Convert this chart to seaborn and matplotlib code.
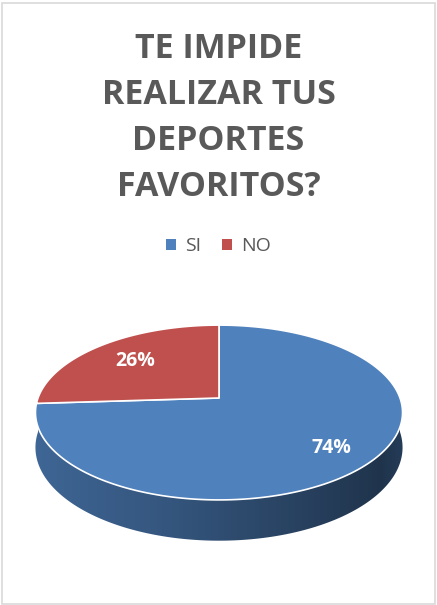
import numpy as np
import matplotlib
matplotlib.use("Agg")
import matplotlib.pyplot as plt
from matplotlib.patches import Polygon, Rectangle, Patch
from matplotlib.colors import to_rgb
import seaborn as sns

# ---- data ----
categories = ["SI", "NO"]
values = [74, 26]
slice_colors = ["#4f81bd", "#c0504d"]
title_text = "TE IMPIDE\nREALIZAR TUS\nDEPORTES\nFAVORITOS?"

sns.set_theme(style="white")
plt.rcParams['font.family'] = ['Open Sans', 'DejaVu Sans']

fig = plt.figure(figsize=(4.37, 6.05), dpi=100)
ax = fig.add_axes([0, 0, 1, 1])
ax.set_xlim(0, 437)
ax.set_ylim(605, 0)
ax.axis('off')

# 3D pie geometry (pixel space, simple perspective)
cx, cy = 219, 398
A, B, E, T = 181, 85, 0.166, 34


def proj(t, rho=1.0, drop=0.0):
    s = np.sin(t) * rho
    c = np.cos(t) * rho
    d = 1 + E * np.sin(t) * rho
    return cx + A * c / d, cy - B * s / d + drop / (1 + E * np.sin(t))


fracs = np.array(values, dtype=float) / sum(values)
# Excel: first slice starts at 12 o'clock, going clockwise
starts = np.pi / 2 - np.concatenate([[0], np.cumsum(fracs)[:-1]]) * 2 * np.pi
ends = starts - fracs * 2 * np.pi


def owner(t):
    for i, (s0, s1) in enumerate(zip(starts, ends)):
        tt = t
        while tt > s0:
            tt -= 2 * np.pi
        while tt < s0 - 2 * np.pi:
            tt += 2 * np.pi
        if s1 <= tt <= s0:
            return i
    return 0


# side wall (front half) as a gradient image clipped to the wall outline
ts = np.linspace(np.pi, 2 * np.pi, 400)
top_arc = [proj(t) for t in ts]
bot_arc = [proj(t, drop=T) for t in ts[::-1]]
wall = Polygon(top_arc + bot_arc, closed=True, facecolor="none",
               edgecolor="none", transform=ax.transData)
ax.add_patch(wall)

# visible silhouette runs between the left and right extreme points
t_lo = np.pi + np.arcsin(E)
t_hi = 2 * np.pi - np.arcsin(E)
tv = np.linspace(t_lo, t_hi, 2000)
xv = proj(tv)[0]
shade_u = [-1, -0.3, 0.4, 0.8, 1.0]
shade_v = [0.80, 0.68, 0.50, 0.40, 0.48]
xs = np.arange(30, 410, 0.5)
tcol = np.interp(xs, xv, tv)
img = np.zeros((2, len(xs), 3))
for j, t in enumerate(tcol):
    i = owner(t)
    f = np.interp(np.cos(t), shade_u, shade_v)
    img[:, j, :] = np.clip(np.array(to_rgb(slice_colors[i])) * f, 0, 1)
im = ax.imshow(img, extent=(xs[0], xs[-1], 560, 390), aspect="auto",
               interpolation="bilinear", zorder=2)
im.set_clip_path(wall)
ax.set_xlim(0, 437)
ax.set_ylim(605, 0)

# top face wedges
for i, (s0, s1) in enumerate(zip(starts, ends)):
    tt = np.linspace(s0, s1, 200)
    pts = [proj(t) for t in tt]
    poly = [(cx, cy)] + pts
    ax.add_patch(Polygon(poly, closed=True, facecolor=slice_colors[i],
                         edgecolor="white", lw=1.2, joinstyle="round",
                         zorder=3))

# data labels
label_rho = [0.78, 0.68]
for i, (s0, s1) in enumerate(zip(starts, ends)):
    tm = 0.5 * (s0 + s1)
    lx, ly = proj(tm, rho=label_rho[i])
    ax.text(lx, ly, f"{values[i]}%", color="white", fontsize=14,
            fontweight="bold", ha="center", va="center", zorder=5)

# title
fig.text(0.5, 1 - 118 / 605, title_text, ha="center", va="center",
         fontsize=24.5, fontweight="bold", color="#595959",
         linespacing=1.47)

# legend
handles = [Patch(facecolor=c, edgecolor="none", label=l)
           for c, l in zip(slice_colors, categories)]
leg = fig.legend(handles=handles, loc="center", ncol=2,
                 bbox_to_anchor=(0.5, 1 - 246 / 605), frameon=False,
                 fontsize=14, handlelength=0.5, handleheight=0.5,
                 handletextpad=0.45, columnspacing=1.1)
for txt in leg.get_texts():
    txt.set_color("#595959")

# chart border
fig.patches.append(Rectangle((1.5 / 437, 1.5 / 605), 433 / 437, 601 / 605,
                             transform=fig.transFigure, fill=False,
                             edgecolor="#d9d9d9", lw=1.2))

fig.savefig("out.png", dpi=100, facecolor="white")
